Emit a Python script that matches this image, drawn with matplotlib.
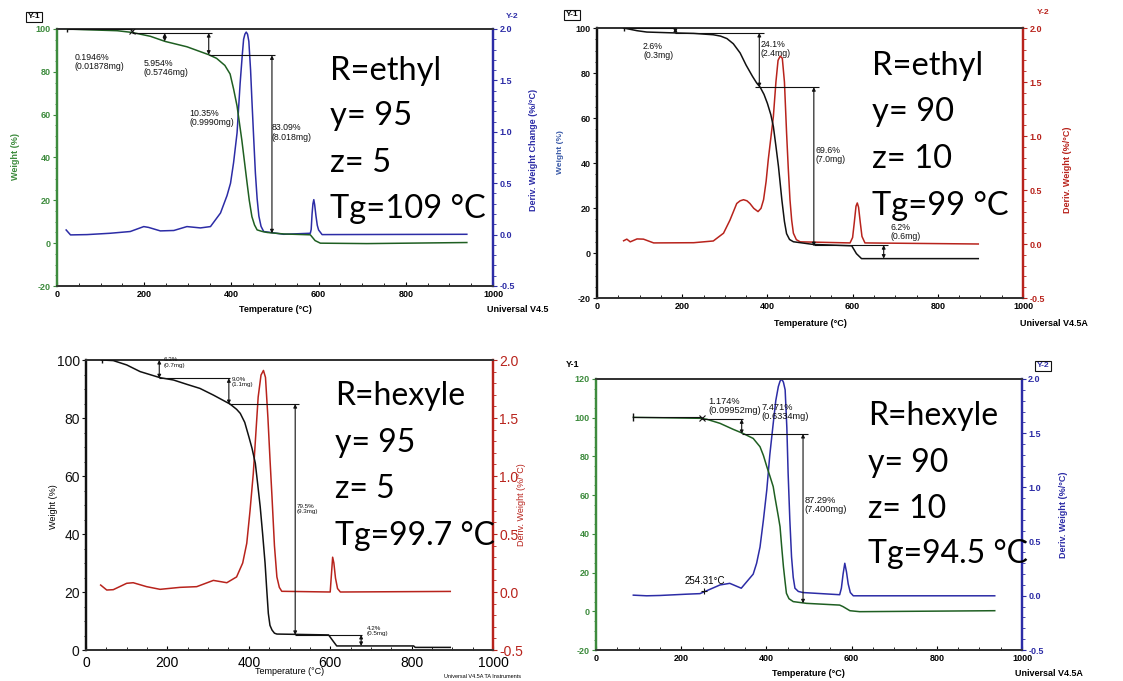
import matplotlib
matplotlib.use("Agg")
import matplotlib.pyplot as plt
from matplotlib.ticker import MultipleLocator

plt.rcParams["font.family"] = ["Liberation Sans", "DejaVu Sans"]
plt.rcParams["axes.unicode_minus"] = False

W_PX, H_PX = 1123, 681

GREEN_AX = "#3d8b3d"
GREEN = "#1f5f22"
BLUE = "#2c2ca6"
RED = "#b8231c"
BLACK = "#111111"

# =========================
# DATA
# =========================
# top-left: R=ethyl, y=95, z=5
P1_T_W = [23, 61, 138, 172, 214, 248, 298, 348, 366, 385, 397, 405, 413, 424, 430, 436, 441, 447, 453, 459, 470, 482, 520, 581, 592, 604, 711, 940]
P1_W = [100, 99.7, 99.2, 98.4, 96.6, 94.2, 91.7, 88.0, 86.3, 83.0, 79.0, 72.0, 64.0, 48.0, 38.0, 28.0, 20.0, 12.4, 8.5, 6.2, 5.5, 5.0, 4.3, 3.9, 1.2, 0.0, -0.2, 0.3]
P1_T_D = [21, 31, 69, 122, 168, 199, 210, 237, 268, 298, 329, 352, 375, 390, 398, 405, 413, 420, 425, 428, 431, 434, 437, 440, 444, 447, 451, 455, 459, 463, 468, 474, 520, 581, 583, 585, 587, 589, 591, 594, 597, 600, 608, 940]
P1_D = [0.045, -0.003, 0.0, 0.013, 0.03, 0.078, 0.07, 0.036, 0.04, 0.078, 0.065, 0.078, 0.21, 0.38, 0.5, 0.7, 0.99, 1.47, 1.75, 1.9, 1.95, 1.97, 1.95, 1.88, 1.6, 1.31, 0.95, 0.6, 0.35, 0.18, 0.08, 0.03, 0.003, 0.013, 0.05, 0.2, 0.3, 0.34, 0.29, 0.18, 0.09, 0.045, 0.0, 0.003]

# top-right: R=ethyl, y=90, z=10
P2_T_W = [62.5, 94, 117, 184, 227, 273, 290, 305, 320, 336, 350, 365, 375, 383, 392, 400, 408, 414, 420, 426, 434, 440, 445, 452, 461, 508, 598, 609, 621, 895]
P2_W = [100, 98.8, 98.2, 97.8, 97.6, 97.0, 96.4, 95.3, 93.0, 88.9, 83.5, 78.5, 75.5, 73.7, 70.5, 66.5, 61.5, 56.2, 47.5, 38.4, 23.5, 14.0, 8.6, 6.0, 5.0, 3.8, 3.2, -0.3, -2.5, -2.5]
P2_T_D = [62.5, 70, 78, 94, 109, 133, 227, 273, 297, 312, 328, 336, 344, 352, 359, 368, 378, 385, 391, 397, 402, 408, 414, 420, 425, 430, 435, 440, 445, 449, 453, 457, 461, 468, 477, 594, 600, 604, 608, 611, 614, 618, 622, 629, 895]
P2_D = [0.03, 0.045, 0.02, 0.047, 0.045, 0.01, 0.012, 0.028, 0.1, 0.22, 0.375, 0.4, 0.41, 0.4, 0.375, 0.33, 0.3, 0.33, 0.41, 0.58, 0.78, 0.98, 1.18, 1.5, 1.7, 1.74, 1.72, 1.5, 1.03, 0.7, 0.41, 0.22, 0.1, 0.04, 0.02, 0.01, 0.06, 0.2, 0.35, 0.38, 0.34, 0.2, 0.07, 0.01, 0.0]

# bottom-left: R=hexyle, y=95, z=5
P3_T_W = [38.5, 67, 100, 133, 182, 215, 248, 280, 313, 354, 370, 379, 390, 400, 408, 416, 422, 428, 434, 440, 444, 448, 452, 457, 463, 469, 596, 608, 616, 805, 809, 895]
P3_W = [100, 99.8, 98.3, 96.0, 93.9, 93.1, 91.6, 90.2, 87.9, 84.8, 83.0, 81.6, 78.5, 73.6, 69.5, 64.4, 57.0, 49.4, 40.0, 29.9, 21.0, 12.6, 8.5, 6.9, 5.8, 5.5, 5.2, 2.9, 1.4, 1.4, 0.9, 0.9]
P3_T_D = [36, 51, 67, 100, 116, 149, 182, 231, 272, 313, 346, 370, 385, 395, 403, 411, 417, 423, 430, 436, 441, 447, 452, 457, 463, 469, 475, 481, 600, 603, 606, 609, 613, 618, 625, 895]
P3_D = [0.06, 0.017, 0.02, 0.075, 0.08, 0.046, 0.023, 0.04, 0.046, 0.1, 0.08, 0.13, 0.25, 0.42, 0.7, 1.02, 1.35, 1.68, 1.87, 1.91, 1.85, 1.5, 1.15, 0.82, 0.4, 0.13, 0.04, 0.006, 0.0, 0.15, 0.3, 0.25, 0.12, 0.03, 0.0, 0.005]

# bottom-right: R=hexyle, y=90, z=10
P4_T_W = [87.6, 244, 260, 291, 322, 345, 369, 385, 393, 401, 408, 416, 420, 424, 428, 432, 436, 440, 444, 447, 453, 463, 494, 572, 580, 596, 619, 936]
P4_W = [100.2, 99.7, 99.2, 97.1, 94.0, 91.9, 89.3, 85.0, 80.5, 74.7, 70.0, 64.4, 59.0, 54.0, 49.0, 43.7, 33.0, 23.0, 15.0, 9.3, 6.5, 5.0, 4.1, 3.2, 2.4, 0.3, -0.2, 0.3]
P4_T_D = [87.6, 119, 150, 213, 244, 260, 291, 314, 341, 369, 377, 385, 393, 401, 408, 416, 422, 428, 432, 436, 440, 444, 448, 451, 455, 459, 463, 467, 475, 486, 572, 576, 580, 584, 588, 592, 597, 604, 936]
P4_D = [0.006, 0.0, 0.003, 0.015, 0.02, 0.047, 0.1, 0.115, 0.07, 0.2, 0.3, 0.45, 0.7, 0.98, 1.3, 1.59, 1.8, 1.93, 1.98, 2.0, 1.97, 1.9, 1.55, 1.13, 0.7, 0.36, 0.17, 0.07, 0.04, 0.03, 0.01, 0.07, 0.2, 0.3, 0.22, 0.11, 0.03, 0.0, 0.0]

# step annotations: horizontal guides (T0, T1, weight) and double arrows (T, w0, w1)
P1_HLINES = [(23, 172, 100), (172, 356, 98.1), (348, 500, 87.7)]
P1_ARROWS = [(247, 98.1, 94.2), (348, 98.1, 88.0), (493, 87.7, 4.6)]
P1_LABELS = [(40, 88.8, "0.1946%\n(0.01878mg)"), (199, 86.0, "5.954%\n(0.5746mg)"),
             (304, 62.6, "10.35%\n(0.9990mg)"), (493, 56.0, "83.09%\n(8.018mg)")]

P2_HLINES = [(62.5, 184, 100), (184, 391, 97.8), (370, 520, 73.7), (509, 684, 3.5)]
P2_ARROWS = [(184, 100, 97.8), (381, 97.8, 73.7), (509, 73.7, 3.0), (673, 3.5, -2.5)]
P2_LABELS = [(108, 94.0, "2.6%\n(0.3mg)"), (384, 94.8, "24.1%\n(2.4mg)"),
             (512, 47.7, "69.6%\n(7.0mg)"), (688, 13.4, "6.2%\n(0.6mg)")]

P3_HLINES = [(180, 355, 93.7), (351, 523, 84.8), (514, 679, 5.2)]
P3_ARROWS = [(180, 100, 93.7), (351, 93.7, 84.8), (514, 84.8, 5.2), (676, 5.2, 1.4)]
P3_LABELS = [(190, 100.9, "6.3%\n(0.7mg)"), (358, 94.3, "9.0%\n(1.1mg)"),
             (518, 50.3, "79.5%\n(9.3mg)"), (690, 8.3, "4.2%\n(0.5mg)")]

P4_HLINES = [(87.6, 248, 100.2), (248, 344, 99.2), (342, 498, 91.6)]
P4_ARROWS = [(342, 99.2, 91.6), (486, 91.6, 4.1)]
P4_LABELS = [(263, 110.9, "1.174%\n(0.09952mg)"), (388, 107.6, "7.471%\n(0.6334mg)"),
             (490, 59.6, "87.29%\n(7.400mg)")]
P4_ONSET = (253, 0.047, "254.31\u00b0C")

P1_TEXT = ["R=ethyl", "y= 95", "z= 5", "Tg=109 \u00b0C"]
P2_TEXT = ["R=ethyl", "y= 90", "z= 10", "Tg=99 \u00b0C"]
P3_TEXT = ["R=hexyle", "y= 95", "z= 5", "Tg=99.7 \u00b0C"]
P4_TEXT = ["R=hexyle", "y= 90", "z= 10", "Tg=94.5 \u00b0C"]


def rect(left, top, right, bottom):
    return [left / W_PX, 1 - bottom / H_PX, (right - left) / W_PX, (bottom - top) / H_PX]


def ftext(fig, x, y, s, **kw):
    fig.text(x / W_PX, 1 - y / H_PX, s, **kw)


def panel(fig, box, tw, w, td, d, ylim, wcol, dcol, lcol, rcol, tsize, tweight):
    ax = fig.add_axes(rect(*box))
    ax2 = ax.twinx()
    ax.plot(tw, w, color=wcol, lw=1.1, zorder=3)
    ax2.plot(td, d, color=dcol, lw=1.1)
    ax.set_xlim(0, 1000)
    ax.set_ylim(*ylim)
    ax2.set_ylim(-0.5, 2.0)
    ax.xaxis.set_major_locator(MultipleLocator(200))
    ax.xaxis.set_minor_locator(MultipleLocator(50))
    ax.yaxis.set_major_locator(MultipleLocator(20))
    ax.yaxis.set_minor_locator(MultipleLocator(5))
    ax2.yaxis.set_major_locator(MultipleLocator(0.5))
    ax2.yaxis.set_minor_locator(MultipleLocator(0.1))
    ax.tick_params(axis="x", direction="in", length=3, width=0.8, labelsize=tsize, pad=3)
    ax.tick_params(axis="x", which="minor", direction="in", length=2)
    ax.tick_params(axis="y", direction="out", length=3, width=0.8, colors=lcol, labelsize=tsize, pad=1.5)
    ax.tick_params(axis="y", which="minor", direction="out", length=1.8, colors=lcol)
    ax2.tick_params(axis="y", direction="out", length=3, width=0.8, colors=rcol, labelsize=tsize, pad=1.5)
    ax2.tick_params(axis="y", which="minor", direction="out", length=1.8, colors=rcol)
    for lab in ax.get_xticklabels() + ax.get_yticklabels() + ax2.get_yticklabels():
        lab.set_fontweight(tweight)
    for a in (ax, ax2):
        a.spines["left"].set_color(lcol)
        a.spines["right"].set_color(rcol)
        a.spines["left"].set_linewidth(1.6)
        a.spines["right"].set_linewidth(1.6)
        a.spines["top"].set_color("#333333")
        a.spines["bottom"].set_color("#333333")
        a.spines["top"].set_linewidth(1.3)
        a.spines["bottom"].set_linewidth(1.3)
    ax.set_zorder(ax2.get_zorder() + 1)
    ax.patch.set_visible(False)
    return ax, ax2


def steps(ax, hlines, arrows, labels, fsize):
    for t0, t1, y in hlines:
        ax.hlines(y, t0, t1, color=BLACK, lw=0.8, zorder=4)
    for t, y0, y1 in arrows:
        ax.annotate("", xy=(t, y1), xytext=(t, y0),
                    arrowprops=dict(arrowstyle="<|-|>", color=BLACK, lw=0.8,
                                    mutation_scale=5, shrinkA=0, shrinkB=0), zorder=4)
    for t, y, s in labels:
        ax.text(t, y, s, fontsize=fsize, va="top", ha="left", color=BLACK,
                linespacing=1.05, zorder=5)


def big_text(fig, x, baselines, lines, size=23.5):
    for yb, s in zip(baselines, lines):
        ftext(fig, x, yb, s, fontsize=size, family=["Lato", "DejaVu Sans"],
              va="baseline", ha="left", color="black")


fig = plt.figure(figsize=(W_PX / 100, H_PX / 100), dpi=100)
fig.patch.set_facecolor("white")

# ---- panel 1
ax, ax2 = panel(fig, (57, 29, 493, 286), P1_T_W, P1_W, P1_T_D, P1_D, (-20, 100),
                GREEN, BLUE, GREEN_AX, BLUE, 6.5, "bold")
steps(ax, P1_HLINES, P1_ARROWS, P1_LABELS, 6.3)
ax.plot([P1_HLINES[0][0]], [100], marker="|", color=BLACK, ms=5, zorder=5)
ax.plot([P1_HLINES[0][1]], [99.2], marker="x", color=BLACK, ms=4, mew=0.8, zorder=5)
ftext(fig, 34, 17, "Y-1", fontsize=6, fontweight="bold", ha="center", va="center",
      bbox=dict(boxstyle="square,pad=0.15", fc="white", ec=BLACK, lw=0.8))
ftext(fig, 512, 17, "Y-2", fontsize=6, fontweight="bold", ha="center", va="center", color=BLUE)
ftext(fig, 15, 157, "Weight (%)", fontsize=6.5, fontweight="bold", rotation=90,
      ha="center", va="center", color=GREEN_AX)
ftext(fig, 534, 150, "Deriv. Weight Change (%/\u00b0C)", fontsize=6.5, fontweight="bold",
      rotation=90, ha="center", va="center", color=BLUE)
ftext(fig, 275, 310, "Temperature (\u00b0C)", fontsize=6.5, fontweight="bold", ha="center", va="center")
ftext(fig, 487, 310, "Universal V4.5", fontsize=6.5, fontweight="bold", ha="left", va="center")
big_text(fig, 330, [80, 125, 172, 218], P1_TEXT)

# ---- panel 2
ax, ax2 = panel(fig, (597, 28, 1023, 298), P2_T_W, P2_W, P2_T_D, P2_D, (-20, 100),
                BLACK, RED, BLACK, RED, 6.5, "bold")
steps(ax, P2_HLINES, P2_ARROWS, P2_LABELS, 6.3)
ax.plot([P2_HLINES[0][0]], [100], marker="|", color=BLACK, ms=5, zorder=5)
ftext(fig, 572, 15, "Y-1", fontsize=6, fontweight="bold", ha="center", va="center",
      bbox=dict(boxstyle="square,pad=0.15", fc="white", ec=BLACK, lw=0.8))
ftext(fig, 1043, 13, "Y-2", fontsize=6, fontweight="bold", ha="center", va="center", color=RED)
ftext(fig, 1067, 170, "Deriv. Weight (%/\u00b0C)", fontsize=6.5, fontweight="bold",
      rotation=90, ha="center", va="center", color=RED)
ftext(fig, 561, 152, "Weight (%)", fontsize=6, fontweight="bold", rotation=90,
      ha="center", va="center", color="#3a5aa8")
ftext(fig, 810, 323, "Temperature (\u00b0C)", fontsize=6.5, fontweight="bold", ha="center", va="center")
ftext(fig, 1020, 323, "Universal V4.5A", fontsize=6.5, fontweight="bold", ha="left", va="center")
big_text(fig, 872, [75, 121, 168, 215], P2_TEXT)

# ---- panel 3
ax, ax2 = panel(fig, (86, 360, 493, 650), P3_T_W, P3_W, P3_T_D, P3_D, (0, 100),
                BLACK, RED, BLACK, RED, 10, "normal")
ax.tick_params(axis="x", pad=4)
steps(ax, P3_HLINES, P3_ARROWS, P3_LABELS, 4.5)
ax.plot([P3_T_W[0]], [100], marker="|", color=BLACK, ms=5, zorder=5)
ftext(fig, 53, 507, "Weight (%)", fontsize=6.5, rotation=90, ha="center", va="center")
ftext(fig, 522, 505, "Deriv. Weight (%/\u00b0C)", fontsize=6.5, rotation=90,
      ha="center", va="center", color=RED)
ftext(fig, 290, 672, "Temperature (\u00b0C)", fontsize=6.5, ha="center", va="center")
ftext(fig, 444, 676, "Universal V4.5A TA Instruments", fontsize=4, ha="left", va="center")
big_text(fig, 335, [405, 452, 498, 545], P3_TEXT, size=23)

# ---- panel 4
ax, ax2 = panel(fig, (596, 379, 1022, 650), P4_T_W, P4_W, P4_T_D, P4_D, (-20, 120),
                GREEN, BLUE, GREEN_AX, BLUE, 6.5, "bold")
steps(ax, P4_HLINES, P4_ARROWS, P4_LABELS, 6.7)
ax.plot([P4_HLINES[0][0]], [100.2], marker="|", color=BLACK, ms=6, zorder=5)
ax.plot([P4_HLINES[0][1]], [99.7], marker="x", color=BLACK, ms=4, mew=0.8, zorder=5)
ax2.plot([P4_ONSET[0]], [P4_ONSET[1]], marker="+", color=BLACK, ms=5, mew=0.8)
ax2.text(P4_ONSET[0] - 44, P4_ONSET[1] + 0.09, P4_ONSET[2], fontsize=7, ha="left", va="center")
ftext(fig, 573, 365, "Y-1", fontsize=6.5, fontweight="bold", ha="center", va="center")
ftext(fig, 1043, 366, "Y-2", fontsize=6, fontweight="bold", ha="center", va="center", color=BLUE,
      bbox=dict(boxstyle="square,pad=0.15", fc="white", ec=BLACK, lw=0.8))
ftext(fig, 1063, 515, "Deriv. Weight (%/\u00b0C)", fontsize=6.5, fontweight="bold",
      rotation=90, ha="center", va="center", color=BLUE)
ftext(fig, 808, 673, "Temperature (\u00b0C)", fontsize=6.5, fontweight="bold", ha="center", va="center")
ftext(fig, 1015, 673, "Universal V4.5A", fontsize=6.5, fontweight="bold", ha="left", va="center")
big_text(fig, 868, [425, 472, 518, 563], P4_TEXT, size=23)

fig.savefig("out.png", dpi=100, facecolor="white")
